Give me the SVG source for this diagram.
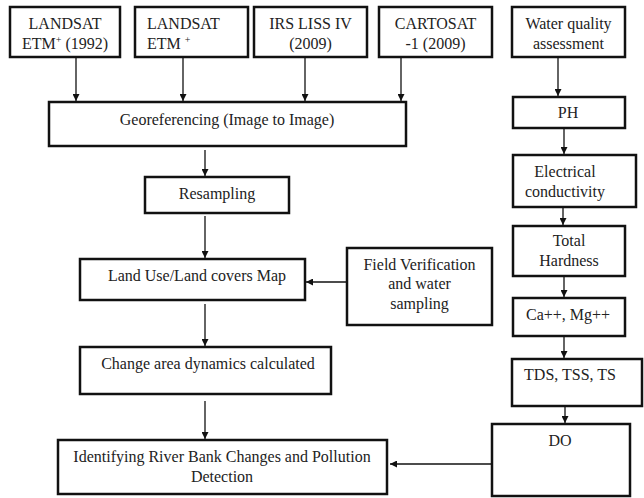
<svg xmlns="http://www.w3.org/2000/svg" width="644" height="498" viewBox="0 0 644 498">
<defs>
<style>
rect.b{fill:#fff;stroke:#111;stroke-width:2.5}
.t text{font-family:'Liberation Serif','Times New Roman','DejaVu Serif',serif;font-size:16px;fill:#222;text-anchor:middle}
.c line{stroke:#111;stroke-width:1.3}
</style>
<marker id="ah" viewBox="0 0 10 10" refX="10" refY="5" markerWidth="7" markerHeight="7" markerUnits="userSpaceOnUse" orient="auto">
<path d="M0,0 L10,5 L0,10 z" fill="#111"/>
</marker>
</defs>
<rect width="644" height="498" fill="#fff"/>
<g class="c">
<line x1="76" y1="58" x2="76" y2="101" marker-end="url(#ah)"/>
<line x1="183" y1="58" x2="183" y2="101" marker-end="url(#ah)"/>
<line x1="305" y1="58" x2="305" y2="101" marker-end="url(#ah)"/>
<line x1="401" y1="58" x2="401" y2="101" marker-end="url(#ah)"/>
<line x1="205" y1="150" x2="205" y2="176" marker-end="url(#ah)"/>
<line x1="205" y1="216" x2="205" y2="258" marker-end="url(#ah)"/>
<line x1="347" y1="282" x2="306" y2="282" marker-end="url(#ah)"/>
<line x1="205" y1="304" x2="205" y2="346" marker-end="url(#ah)"/>
<line x1="205" y1="401" x2="205" y2="439" marker-end="url(#ah)"/>
<line x1="558" y1="57" x2="558" y2="96" marker-end="url(#ah)"/>
<line x1="564" y1="129" x2="564" y2="154" marker-end="url(#ah)"/>
<line x1="563" y1="208" x2="563" y2="225" marker-end="url(#ah)"/>
<line x1="564" y1="277" x2="564" y2="297" marker-end="url(#ah)"/>
<line x1="564" y1="337" x2="564" y2="358" marker-end="url(#ah)"/>
<line x1="565" y1="407" x2="565" y2="423" marker-end="url(#ah)"/>
<line x1="492" y1="464" x2="390" y2="464" marker-end="url(#ah)"/>
</g>
<g class="t" font-family="'Liberation Serif', 'Times New Roman', serif">
<g id="landsat1"><rect class="b" x="10" y="7" width="110" height="50"/><text x="65" y="29">LANDSAT</text><text x="65" y="49">ETM<tspan font-size="10" dy="-6">+</tspan><tspan dy="6"> (1992)</tspan></text></g>
<g id="landsat2"><rect class="b" x="135" y="7" width="113" height="50"/><text x="147" y="29" style="text-anchor:start">LANDSAT</text><text x="147" y="49" style="text-anchor:start">ETM <tspan font-size="10" dy="-6">+</tspan></text></g>
<g id="irs"><rect class="b" x="254" y="7" width="113" height="50"/><text x="310.5" y="29">IRS LISS IV</text><text x="310.5" y="49">(2009)</text></g>
<g id="cartosat"><rect class="b" x="379" y="7" width="113" height="50"/><text x="435.5" y="29">CARTOSAT</text><text x="435.5" y="49">-1 (2009)</text></g>
<g id="water"><rect class="b" x="512" y="7" width="113" height="50"/><text x="568.5" y="29">Water quality</text><text x="568.5" y="49">assessment</text></g>
<g id="georef"><rect class="b" x="49" y="102" width="357" height="44"/><text x="227" y="125">Georeferencing (Image to Image)</text></g>
<g id="resampling"><rect class="b" x="145" y="177" width="144" height="36"/><text x="217" y="199">Resampling</text></g>
<g id="landuse"><rect class="b" x="80" y="259" width="225" height="41"/><text x="197" y="281">Land Use/Land covers Map</text></g>
<g id="field"><rect class="b" x="347" y="248" width="145" height="77"/><text x="419.5" y="270">Field Verification</text><text x="419.5" y="289">and water</text><text x="419.5" y="309">sampling</text></g>
<g id="change"><rect class="b" x="80" y="347" width="251" height="47"/><text x="208" y="369">Change area dynamics calculated</text></g>
<g id="identify"><rect class="b" x="58" y="440" width="329" height="54"/><text x="222" y="462">Identifying River Bank Changes and Pollution</text><text x="222" y="482">Detection</text></g>
<g id="ph"><rect class="b" x="513" y="97" width="112" height="31"/><text x="568" y="118">PH</text></g>
<g id="ec"><rect class="b" x="513" y="155" width="123" height="52"/><text x="565" y="177">Electrical</text><text x="565" y="197">conductivity</text></g>
<g id="th"><rect class="b" x="513" y="226" width="112" height="50"/><text x="569" y="246">Total</text><text x="569" y="266">Hardness</text></g>
<g id="ca"><rect class="b" x="513" y="298" width="112" height="38"/><text x="568" y="320">Ca++, Mg++</text></g>
<g id="tds"><rect class="b" x="512" y="359" width="130" height="47"/><text x="570" y="380">TDS, TSS, TS</text></g>
<g id="do"><rect class="b" x="492" y="424" width="138" height="72"/><text x="560" y="446">DO</text></g>
</g>
</svg>
